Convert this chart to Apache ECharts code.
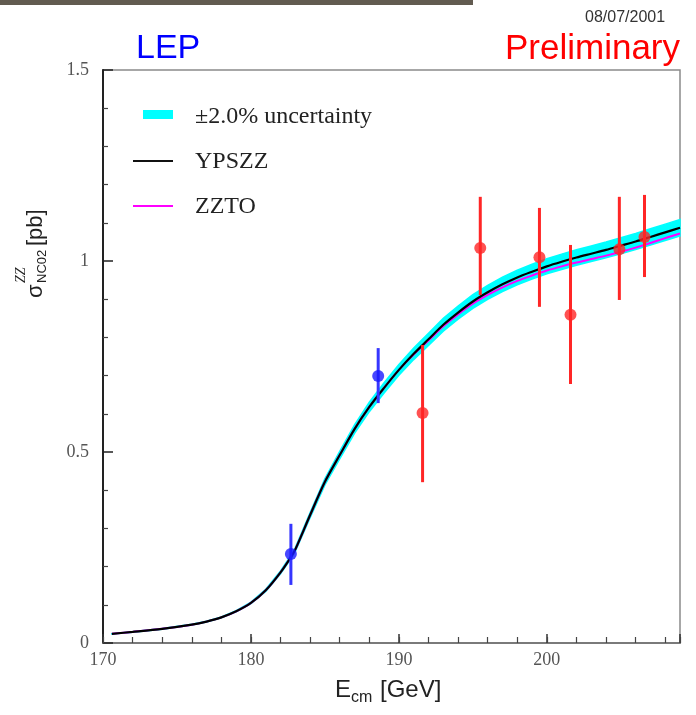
<!DOCTYPE html>
<html>
<head>
<meta charset="utf-8">
<script src="https://cdn.jsdelivr.net/npm/echarts@6/dist/echarts.min.js"></script>
<style>html,body{margin:0;padding:0;background:#fff;}#chart{width:696px;height:715px;}</style>
</head>
<body>
<div id="chart"></div>
<script>
// ---- data ----
const energies = [170.6,172,174,176,177,178,179,180,181,182,182.7,183,184,185,186,187,188,189,190,191,192,193,194,195,196,197,198,199,200,201,202,203,204,205,206,207,208,209];
const ypszz   = [0.024,0.029,0.037,0.048,0.056,0.067,0.083,0.105,0.138,0.185,0.225,0.245,0.335,0.422,0.492,0.560,0.618,0.668,0.715,0.757,0.795,0.833,0.865,0.894,0.918,0.939,0.957,0.972,0.986,0.998,1.009,1.019,1.029,1.040,1.051,1.063,1.075,1.087];
const zzto    = [0.024,0.029,0.037,0.048,0.056,0.067,0.083,0.105,0.138,0.185,0.225,0.245,0.335,0.422,0.492,0.560,0.618,0.668,0.715,0.755,0.792,0.829,0.860,0.888,0.911,0.931,0.948,0.962,0.975,0.986,0.996,1.005,1.014,1.024,1.035,1.047,1.060,1.072];
const bandHi  = [0.0245,0.0296,0.0377,0.049,0.0571,0.0683,0.0847,0.1071,0.1408,0.1887,0.2295,0.2499,0.3417,0.4304,0.5018,0.5712,0.6304,0.6814,0.7293,0.7721,0.8109,0.8497,0.8823,0.9119,0.9364,0.9578,0.9761,0.9914,1.0057,1.018,1.0292,1.0394,1.0496,1.0608,1.072,1.0843,1.0965,1.1087];
const bandLo  = [0.0235,0.0284,0.0363,0.047,0.0549,0.0657,0.0813,0.1029,0.1352,0.1813,0.2205,0.2401,0.3283,0.4136,0.4822,0.5488,0.6056,0.6546,0.7007,0.7419,0.7791,0.8163,0.8477,0.8761,0.8996,0.9202,0.9379,0.9526,0.9663,0.978,0.9888,0.9986,1.0084,1.0192,1.03,1.0417,1.0535,1.0653];

const blueE   = [182.7, 188.6];
const blueSig = [0.233, 0.699];
const blueLo  = [0.152, 0.628];
const blueHi  = [0.312, 0.772];

const redE    = [191.6, 195.5, 199.5, 201.6, 204.9, 206.6];
const redSig  = [0.602, 1.034, 1.010, 0.859, 1.031, 1.063];
const redLo   = [0.421, 0.911, 0.880, 0.678, 0.898, 0.958];
const redHi   = [0.780, 1.168, 1.139, 1.042, 1.168, 1.173];

const xLabels = [170, 180, 190, 200];
const yLabels = [0, 0.5, 1, 1.5];

const BLUE = '#1a1aff', RED = '#ff2626';
const SERIF = '"Liberation Serif", "DejaVu Serif", serif';
const SANS = '"Liberation Sans", Arial, sans-serif';

const pairs = (xs, ys) => xs.map((x, i) => [x, ys[i]]);
const rows = (xs, s, lo, hi) => xs.map((x, i) => [x, s[i], lo[i], hi[i]]);

function errBar(color) {
  return function (params, api) {
    const e = api.value(0);
    const p1 = api.coord([e, api.value(3)]);
    const p2 = api.coord([e, api.value(2)]);
    return { type: 'line', shape: { x1: p1[0], y1: p1[1], x2: p2[0], y2: p2[1] },
             style: { stroke: color, lineWidth: 3 } };
  };
}

const chart = echarts.init(document.getElementById('chart'));
chart.setOption({
  animation: false,
  backgroundColor: '#fff',
  grid: { left: 103, right: 16, top: 70, bottom: 72, show: true, borderColor: '#8a8a8a', borderWidth: 1.5, backgroundColor: 'transparent' },
  xAxis: [
    { type: 'value', min: 170, max: 209, interval: 10,
      axisLine: { lineStyle: { color: '#7a7a7a', width: 2 } },
      axisTick: { inside: true, length: 9, lineStyle: { color: '#333', width: 1.5 } },
      axisLabel: { margin: 8, fontFamily: SERIF, fontSize: 18, color: '#555',
        formatter: v => xLabels.indexOf(v) >= 0 ? String(v) : '' },
      splitLine: { show: false } },
    { type: 'value', min: 170, max: 209, interval: 2, position: 'bottom',
      axisLine: { show: false },
      axisTick: { inside: true, length: 6, lineStyle: { color: '#444', width: 1.2 } },
      axisLabel: { show: false }, splitLine: { show: false } }
  ],
  yAxis: [
    { type: 'value', min: 0, max: 1.5, interval: 0.5,
      axisLine: { show: true, lineStyle: { color: '#222', width: 2 } },
      axisTick: { inside: true, length: 10, lineStyle: { color: '#222', width: 1.5 } },
      minorTick: { show: true, splitNumber: 5, length: 5, lineStyle: { color: '#444', width: 1.2 } },
      axisLabel: { margin: 14, fontFamily: SERIF, fontSize: 18, color: '#555',
        formatter: v => yLabels.indexOf(v) >= 0 ? String(v) : '' },
      splitLine: { show: false }, minorSplitLine: { show: false } }
  ],
  series: [
    { type: 'custom', name: 'band', coordinateSystem: 'cartesian2d', xAxisIndex: 0, yAxisIndex: 0,
      data: [[energies[0], bandLo[0]]], encode: { x: 0, y: 1 }, silent: true, z: 1,
      renderItem: function (params, api) {
        const pts = [];
        for (let i = 0; i < energies.length; i++) pts.push(api.coord([energies[i], bandHi[i]]));
        for (let i = energies.length - 1; i >= 0; i--) pts.push(api.coord([energies[i], bandLo[i]]));
        return { type: 'polygon', shape: { points: pts }, style: { fill: '#00ffff', stroke: '#00ffff', lineWidth: 1.5 } };
      } },
    { type: 'line', name: 'ZZTO', data: pairs(energies, zzto), showSymbol: false, smooth: 0.3, z: 2,
      lineStyle: { color: '#ff00ff', width: 2 } },
    { type: 'line', name: 'YPSZZ', data: pairs(energies, ypszz), showSymbol: false, smooth: 0.3, z: 3,
      lineStyle: { color: '#000', width: 2.2 } },
    { type: 'custom', coordinateSystem: 'cartesian2d', data: rows(blueE, blueSig, blueLo, blueHi),
      encode: { x: 0, y: 1 }, renderItem: errBar('#3636ff'), z: 4 },
    { type: 'custom', coordinateSystem: 'cartesian2d', data: rows(redE, redSig, redLo, redHi),
      encode: { x: 0, y: 1 }, renderItem: errBar(RED), z: 4 },
    { type: 'scatter', data: pairs(blueE, blueSig), symbol: 'circle', symbolSize: 12, z: 5,
      itemStyle: { color: BLUE } },
    { type: 'scatter', data: pairs(redE, redSig), symbol: 'circle', symbolSize: 12, z: 5,
      itemStyle: { color: RED } }
  ],
  graphic: [
    { type: 'rect', shape: { x: 0, y: 0, width: 473, height: 5 }, style: { fill: '#625b50' } },
    { type: 'text', x: 585, y: 18, style: { text: '08/07/2001', font: '16px ' + SANS, fill: '#333', textVerticalAlign: 'middle' } },
    { type: 'text', x: 136, y: 49, style: { text: 'LEP', font: '34px ' + SANS, fill: '#0000ff', textVerticalAlign: 'middle' } },
    { type: 'text', x: 680, y: 49, style: { text: 'Preliminary', font: '35px ' + SANS, fill: '#ff0000', textAlign: 'right', textVerticalAlign: 'middle' } },
    // legend
    { type: 'rect', shape: { x: 143, y: 110, width: 30, height: 9 }, style: { fill: '#00ffff' } },
    { type: 'text', x: 195, y: 117, style: { text: '\u00b12.0% uncertainty', font: '24px ' + SERIF, fill: '#222', textVerticalAlign: 'middle' } },
    { type: 'line', shape: { x1: 133, y1: 161, x2: 173, y2: 161 }, style: { stroke: '#111', lineWidth: 2 } },
    { type: 'text', x: 195, y: 162, style: { text: 'YPSZZ', font: '24px ' + SERIF, fill: '#222', textVerticalAlign: 'middle' } },
    { type: 'line', shape: { x1: 133, y1: 206, x2: 173, y2: 206 }, style: { stroke: '#ff00ff', lineWidth: 2 } },
    { type: 'text', x: 195, y: 207, style: { text: 'ZZTO', font: '24px ' + SERIF, fill: '#222', textVerticalAlign: 'middle' } },
    // x axis title
    { type: 'text', x: 335, y: 690, style: { text: 'E', font: '24px ' + SANS, fill: '#222', textVerticalAlign: 'middle' } },
    { type: 'text', x: 351, y: 698, style: { text: 'cm', font: '16px ' + SANS, fill: '#222', textVerticalAlign: 'middle' } },
    { type: 'text', x: 380, y: 690, style: { text: '[GeV]', font: '24px ' + SANS, fill: '#222', textVerticalAlign: 'middle' } },
    // y axis title (rotated)
    { type: 'group', x: 44, y: 298, rotation: Math.PI / 2, children: [
      { type: 'text', x: 0, y: -8, style: { text: '\u03c3', font: '22px ' + SANS, fill: '#222', textVerticalAlign: 'middle' } },
      { type: 'text', x: 15, y: -2, style: { text: 'NC02', font: '13px ' + SANS, fill: '#222', textVerticalAlign: 'middle' } },
      { type: 'text', x: 15, y: -23, style: { text: 'ZZ', font: 'italic 14px ' + SERIF, fill: '#222', textVerticalAlign: 'middle' } },
      { type: 'text', x: 52, y: -8, style: { text: '[pb]', font: '22px ' + SANS, fill: '#222', textVerticalAlign: 'middle' } }
    ] }
  ]
});
</script>
</body>
</html>
